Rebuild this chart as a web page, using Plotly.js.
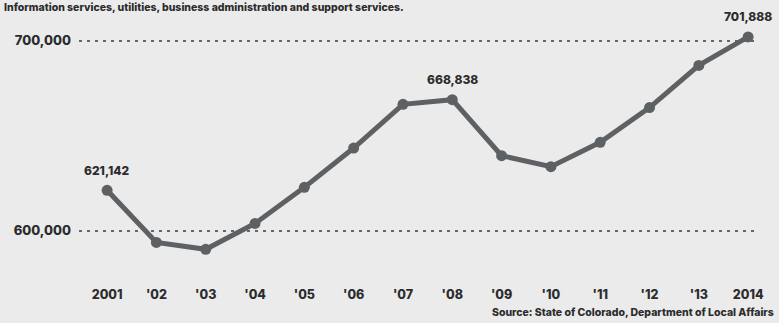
<!DOCTYPE html>
<html>
<head>
<meta charset="utf-8">
<script src="https://cdn.plot.ly/plotly-3.0.1.min.js"></script>
<style>
html,body{margin:0;padding:0;background:#ebebeb;}
#chart{width:779px;height:323px;}
</style>
</head>
<body>
<div id="chart"></div>
<script>
const years = [2001,2002,2003,2004,2005,2006,2007,2008,2009,2010,2011,2012,2013,2014];
const employment = [621142,593700,590100,603700,622700,643400,666400,668838,639400,633600,646400,664700,686900,701888];
const tickLabels = ["2001","'02","'03","'04","'05","'06","'07","'08","'09","'10","'11","'12","'13","2014"];
const yTicks = [600000,700000];
const yTickLabels = ["600,000","700,000"];
const labeledYears = [2001,2008,2014];
const headerText = "Information services, utilities, business administration and support services.";
const sourceText = "Source: State of Colorado, Department of Local Affairs";

const FONT = "Inter, 'Open Sans', 'DejaVu Sans', sans-serif";
const ink = "#2b2c2d";
const lineColor = "#5e6164";

const annotations = labeledYears.map(yr => {
  const v = employment[years.indexOf(yr)];
  return {
    x: yr, y: v, xref: 'x', yref: 'y',
    text: v.toLocaleString('en-US'),
    showarrow: false, yshift: 20,
    font: {family: FONT, size: 12, color: ink, weight: 800}
  };
});
annotations.push({
  xref: 'paper', yref: 'paper', x: -0.112, y: 1.08, xanchor: 'left', yanchor: 'top',
  text: headerText, showarrow: false, borderpad: 0,
  font: {family: FONT, size: 10.5, color: ink, weight: 800}
});
annotations.push({
  xref: 'paper', yref: 'paper', x: 1.027, y: -0.17, xanchor: 'right', yanchor: 'middle',
  text: sourceText, showarrow: false,
  font: {family: FONT, size: 10.5, color: ink, weight: 800}
});

const trace = {
  x: years, y: employment, type: 'scatter', mode: 'lines+markers',
  line: {color: lineColor, width: 5},
  marker: {color: lineColor, size: 11},
  hoverinfo: 'skip'
};

const x0 = years[0];
const layout = {
  width: 779, height: 323,
  paper_bgcolor: '#ebebeb', plot_bgcolor: '#ebebeb',
  margin: {l: 79, r: 21, t: 20, b: 53},
  showlegend: false,
  xaxis: {
    range: [x0 - 0.57, x0 + 13.2],
    tickvals: years, ticktext: tickLabels,
    showgrid: false, zeroline: false, showline: false, ticks: '',
    ticklabelstandoff: 15,
    tickfont: {family: FONT, size: 12.5, color: ink, weight: 800}
  },
  yaxis: {
    range: [579210, 710790],
    tickvals: yTicks, ticktext: yTickLabels,
    showgrid: true, gridcolor: '#666666', gridwidth: 2, griddash: '3px,5px',
    zeroline: false, showline: false, ticks: '',
    ticklabelstandoff: 7,
    tickfont: {family: FONT, size: 13, color: ink, weight: 800}
  },
  annotations: annotations
};

Plotly.newPlot('chart', [trace], layout, {displayModeBar: false, staticPlot: true});
</script>
</body>
</html>
